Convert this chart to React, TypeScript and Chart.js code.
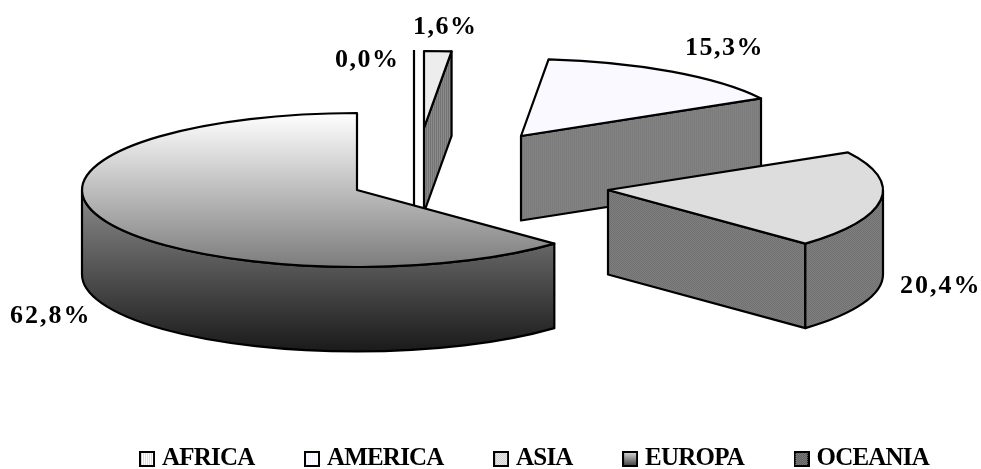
import React, { useEffect, useRef } from "react";
import { Chart, registerables } from "chart.js";

Chart.register(...registerables);

// Share of the total per continent, in percent.
const continents = ["AFRICA", "AMERICA", "ASIA", "EUROPA", "OCEANIA"];
const shares = [1.6, 15.3, 20.4, 62.8, 0.0];

// Layout of the tilted pie.
const pieRadius = 275;
const tilt = 77 / 275;
const pieDepth = 84.5;
const pieCentre = { x: 357, y: 190 };
const explodeX = [67, 164, 251, 0, 57];
const explodeY = [-62, -54, 0, 0, -63];
const paintOrder = [1, 2, 0, 4, 3];

// Value labels: left edge, baseline and tracking.
const labelLeft = [413, 685, 900, 10, 335];
const labelBaseline = [34, 55, 293, 323, 67];
const labelTracking = [1.5, 1.5, 2, 2, 1.5];
const legendTracking = "-0.8px";

type Tile = [string, string, "stripes" | "checker"];
const topTiles: (Tile | null)[] = [
  ["#dcdcdc", "#ffffff", "stripes"],
  ["#f3f3ff", "#ffffff", "stripes"],
  ["#cfcfcf", "#ececec", "checker"],
  null,
  ["#222222", "#b8b8b8", "checker"],
];
const wallTiles: (Tile | null)[] = [
  ["#747474", "#8a8a8a", "stripes"],
  ["#7c7c7c", "#828282", "stripes"],
  ["#707070", "#808080", "checker"],
  null,
  ["#222222", "#b8b8b8", "checker"],
];

function tileCanvas([a, b, mode]: Tile) {
  const c = document.createElement("canvas");
  c.width = 2;
  c.height = 2;
  const g = c.getContext("2d")!;
  g.fillStyle = a;
  g.fillRect(0, 0, 2, 2);
  g.fillStyle = b;
  if (mode === "stripes") {
    g.fillRect(1, 0, 1, 2);
  } else {
    g.fillRect(1, 0, 1, 1);
    g.fillRect(0, 1, 1, 1);
  }
  return c;
}

function swatch(i: number) {
  const size = 16;
  const c = document.createElement("canvas");
  c.width = size;
  c.height = size;
  const g = c.getContext("2d")!;
  const tile = topTiles[i];
  if (tile) {
    g.fillStyle = g.createPattern(tileCanvas(tile), "repeat")!;
  } else {
    const grad = g.createLinearGradient(0, 0, 0, size);
    grad.addColorStop(0, "#e4e4e4");
    grad.addColorStop(1, "#333333");
    g.fillStyle = grad;
  }
  g.fillRect(0, 0, size, size);
  g.strokeStyle = "#000";
  g.lineWidth = 2;
  g.strokeRect(1, 1, size - 2, size - 2);
  return c;
}

const percentText = (v: number) => v.toFixed(1).replace(".", ",") + "%";

const tiltedPie = {
  id: "tiltedPie",
  beforeLayout(chart: any) {
    chart.ctx.letterSpacing = legendTracking;
  },
  beforeDraw(chart: any) {
    chart.ctx.letterSpacing = legendTracking;
  },
  beforeDatasetDraw(chart: any, args: any) {
    const ctx: CanvasRenderingContext2D = chart.ctx;
    const arcs = args.meta.data;
    const ry = pieRadius * tilt;

    for (const i of paintOrder) {
      const arc = arcs[i];
      const { x, y, startAngle, endAngle } = arc.getProps(["x", "y", "startAngle", "endAngle"], true);
      const cx = pieCentre.x + explodeX[i];
      const cy = pieCentre.y + explodeY[i];
      const px = (a: number) => cx + pieRadius * Math.cos(a);
      const py = (a: number) => cy + ry * Math.sin(a);

      ctx.save();
      ctx.lineWidth = 2.2;
      ctx.strokeStyle = "#000";
      ctx.lineJoin = "round";

      // Side walls first, so that the top face sits over them.
      let wallFill: string | CanvasPattern | CanvasGradient;
      const tile = wallTiles[i];
      if (tile) {
        wallFill = ctx.createPattern(tileCanvas(tile), "repeat")!;
      } else {
        const grad = ctx.createLinearGradient(0, cy, 0, cy + ry + pieDepth);
        grad.addColorStop(0, "#8c8c8c");
        grad.addColorStop(1, "#1a1a1a");
        wallFill = grad;
      }
      ctx.fillStyle = wallFill;

      if (Math.cos(endAngle) > 1e-6) {
        ctx.beginPath();
        ctx.moveTo(cx, cy);
        ctx.lineTo(px(endAngle), py(endAngle));
        ctx.lineTo(px(endAngle), py(endAngle) + pieDepth);
        ctx.lineTo(cx, cy + pieDepth);
        ctx.closePath();
        ctx.fill();
        ctx.stroke();
      }

      const from = Math.max(startAngle, 0);
      const to = Math.min(endAngle, Math.PI);
      if (to > from) {
        ctx.beginPath();
        ctx.moveTo(px(from), py(from));
        ctx.ellipse(cx, cy, pieRadius, ry, 0, from, to);
        ctx.lineTo(px(to), py(to) + pieDepth);
        ctx.ellipse(cx, cy + pieDepth, pieRadius, ry, 0, to, from, true);
        ctx.closePath();
        ctx.fill();
        ctx.stroke();
      }

      // Top face: the library's own arc, squashed onto the tilted plane.
      ctx.save();
      ctx.translate(cx, cy);
      ctx.scale(1, tilt);
      ctx.translate(-x, -y);
      arc.draw(ctx);
      ctx.restore();

      ctx.beginPath();
      if (endAngle - startAngle < 1e-6) {
        // A slice with no width still shows as a single upright edge.
        ctx.moveTo(px(endAngle), py(endAngle));
        ctx.lineTo(cx, cy + pieDepth);
      } else {
        ctx.moveTo(cx, cy);
        ctx.lineTo(px(startAngle), py(startAngle));
        ctx.ellipse(cx, cy, pieRadius, ry, 0, startAngle, endAngle);
        ctx.closePath();
      }
      ctx.stroke();
      ctx.restore();
    }
    return false;
  },
  afterDatasetsDraw(chart: any) {
    const ctx: any = chart.ctx;
    ctx.save();
    ctx.fillStyle = "#000";
    ctx.font = "bold 26px 'Liberation Serif'";
    ctx.textAlign = "left";
    ctx.textBaseline = "alphabetic";
    shares.forEach((v, i) => {
      ctx.letterSpacing = labelTracking[i] + "px";
      ctx.fillText(percentText(v), labelLeft[i], labelBaseline[i]);
    });
    ctx.restore();
  },
};

export default function App() {
  const ref = useRef<HTMLCanvasElement>(null);

  useEffect(() => {
    const canvas = ref.current!;
    const ctx = canvas.getContext("2d")!;

    const topFills = topTiles.map((t) => {
      if (!t) return null;
      const p = ctx.createPattern(tileCanvas(t), "repeat")!;
      // The arc is drawn squashed, so the tile is stretched back to stay square.
      p.setTransform(new DOMMatrix().scale(1, 1 / tilt));
      return p;
    });

    const chart = new Chart(canvas, {
      type: "pie",
      data: {
        labels: continents,
        datasets: [
          {
            data: shares,
            borderWidth: 0,
            radius: pieRadius,
            backgroundColor: (c: any) => {
              const fill = topFills[c.dataIndex];
              if (fill) return fill;
              const area = c.chart.chartArea;
              if (!area) return "#c0c0c0";
              const mid = (area.top + area.bottom) / 2;
              const grad = c.chart.ctx.createLinearGradient(0, mid - pieRadius, 0, mid + pieRadius);
              grad.addColorStop(0, "#ffffff");
              grad.addColorStop(1, "#7c7c7c");
              return grad;
            },
          } as any,
        ],
      },
      options: {
        responsive: false,
        animation: false,
        events: [],
        layout: { padding: { left: 78, right: -14.5, top: 0, bottom: -12.5 } },
        plugins: {
          tooltip: { enabled: false },
          legend: {
            position: "bottom",
            labels: {
              color: "#000",
              font: { family: "'Liberation Serif'", size: 25, weight: "bold" },
              padding: 55,
              usePointStyle: true,
              pointStyleWidth: 5,
              generateLabels: () =>
                continents.map((text, i) => ({
                  text,
                  index: i,
                  datasetIndex: 0,
                  pointStyle: swatch(i),
                  hidden: false,
                  fontColor: "#000",
                })),
            },
          },
        },
      },
      plugins: [tiltedPie],
    } as any);

    return () => chart.destroy();
  }, []);

  return (
    <div style={{ position: "absolute", left: 0, top: 0, width: 981, height: 469, background: "#fff" }}>
      <canvas ref={ref} width={981} height={469} style={{ display: "block" }} />
    </div>
  );
}
